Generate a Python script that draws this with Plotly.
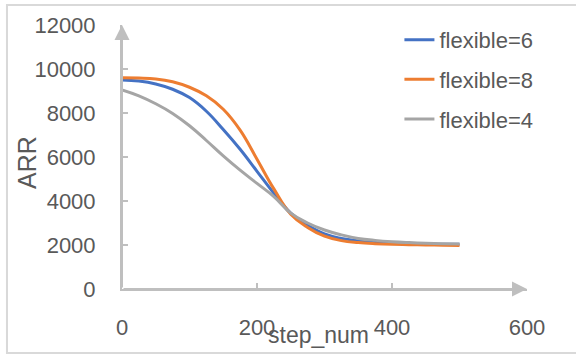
import plotly.graph_objects as go

steps = [0, 25, 50, 75, 100, 125, 150, 175, 200, 225, 250, 275, 300, 325, 350, 375, 400, 425, 450, 475, 500]
flex6 = [9500, 9450, 9320, 9080, 8700, 8080, 7250, 6350, 5350, 4350, 3450, 2900, 2500, 2300, 2190, 2120, 2080, 2060, 2045, 2035, 2030]
flex8 = [9600, 9590, 9550, 9420, 9170, 8780, 8170, 7220, 5900, 4550, 3400, 2800, 2400, 2200, 2110, 2060, 2030, 2015, 2000, 1990, 1980]
flex4 = [9050, 8780, 8420, 7980, 7420, 6750, 6050, 5400, 4800, 4200, 3450, 3000, 2680, 2460, 2300, 2210, 2150, 2110, 2080, 2060, 2050]

x_ticks = [0, 200, 400, 600]
y_ticks = [0, 2000, 4000, 6000, 8000, 10000, 12000]

series = [("flexible=6", flex6, "#4472C4"), ("flexible=8", flex8, "#ED7D31"), ("flexible=4", flex4, "#A5A5A5")]

FONT = "Liberation Sans, Arial, sans-serif"
TXT = "#595959"
AX = "#BFBFBF"

fig = go.Figure()
for i, (name, ys, col) in enumerate(series):
    fig.add_trace(go.Scatter(x=steps, y=ys, name=name, mode="lines",
                             line=dict(color=col, width=3, shape="spline", smoothing=1.2),
                             legendgroup=f"g{i}"))

fig.update_layout(
    width=576, height=356,
    margin=dict(l=122, r=49, t=25, b=67),
    paper_bgcolor="white", plot_bgcolor="white",
    font=dict(family=FONT, color=TXT, size=22),
    showlegend=True,
    legend=dict(x=0.685, y=1.023, xanchor="left", yanchor="top",
                font=dict(size=22, color=TXT), bgcolor="rgba(0,0,0,0)",
                tracegroupgap=8, traceorder="grouped"),
    xaxis=dict(range=[0, 600], tickvals=x_ticks, ticktext=[str(v) for v in x_ticks],
               showgrid=False, zeroline=False,
               showline=True, linecolor=AX, linewidth=2, ticks="inside", ticklen=6,
               tickcolor=AX, tickwidth=1.5, ticklabelstandoff=18,
               tickfont=dict(size=22, color=TXT)),
    yaxis=dict(range=[0, 12000], tickvals=y_ticks, ticktext=[str(v) for v in y_ticks],
               showgrid=False, zeroline=False,
               showline=True, linecolor=AX, linewidth=2, ticks="inside", ticklen=6,
               tickcolor=AX, tickwidth=1.5, ticklabelstandoff=20,
               tickfont=dict(size=22, color=TXT)),
    shapes=[dict(type="rect", xref="paper", yref="paper", x0=-0.284, x1=1.15, y0=-0.2424, y1=1.0758,
                 line=dict(color="#D9D9D9", width=2), fillcolor="rgba(0,0,0,0)", layer="below")],
)

# axis arrows
fig.add_annotation(x=600, y=0, ax=0, ay=0, xref="x", yref="y", axref="x", ayref="y",
                   showarrow=True, arrowhead=2, arrowsize=1.5, arrowwidth=2, arrowcolor=AX, text="")
fig.add_annotation(x=0, y=12000, ax=0, ay=0, xref="x", yref="y", axref="x", ayref="y",
                   showarrow=True, arrowhead=2, arrowsize=1.5, arrowwidth=2, arrowcolor=AX, text="")

# axis titles
fig.add_annotation(text="step_num", xref="paper", yref="paper", x=0.485, y=-0.175,
                   xanchor="center", yanchor="middle", showarrow=False,
                   font=dict(size=23, color=TXT, family=FONT))
fig.add_annotation(text="ARR", xref="paper", yref="paper", x=-0.2346, y=0.481, textangle=-90,
                   xanchor="center", yanchor="middle", showarrow=False,
                   font=dict(size=25, color=TXT, family=FONT))

fig.write_html("out.html")
